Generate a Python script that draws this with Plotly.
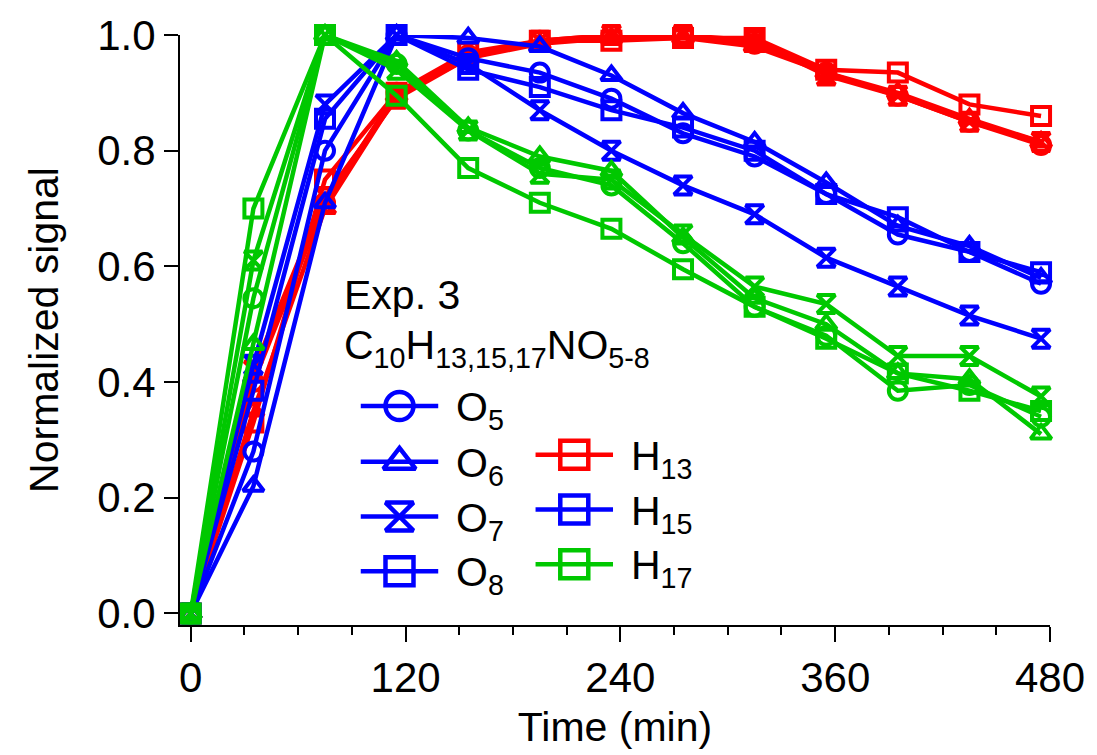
import plotly.graph_objects as go

# ---------------- data ----------------
time_min = [0, 35, 75, 115, 155, 195, 235, 275, 315, 355, 395, 435, 475]

# H13 (red)
h13_o5 = [0, 0.40, 0.71, 0.90, 0.965, 0.99, 1.00, 1.00, 0.985, 0.935, 0.895, 0.85, 0.81]
h13_o6 = [0, 0.35, 0.70, 0.895, 0.96, 0.985, 0.995, 0.995, 0.98, 0.935, 0.90, 0.855, 0.815]
h13_o7 = [0, 0.42, 0.72, 0.89, 0.96, 0.99, 1.00, 1.00, 0.99, 0.93, 0.895, 0.85, 0.815]
h13_o8 = [0, 0.33, 0.75, 0.90, 0.97, 0.99, 0.99, 0.995, 0.995, 0.94, 0.935, 0.88, 0.86]

# H15 (blue)
h15_o5 = [0, 0.28, 0.80, 1.00, 0.96, 0.935, 0.89, 0.83, 0.79, 0.725, 0.655, 0.625, 0.57]
h15_o6 = [0, 0.22, 0.71, 1.00, 0.995, 0.98, 0.93, 0.865, 0.815, 0.745, 0.67, 0.635, 0.58]
h15_o7 = [0, 0.43, 0.88, 1.00, 0.95, 0.87, 0.80, 0.74, 0.69, 0.615, 0.565, 0.515, 0.475]
h15_o8 = [0, 0.385, 0.855, 1.00, 0.94, 0.91, 0.87, 0.84, 0.80, 0.725, 0.685, 0.625, 0.59]

# H17 (green)
h17_o5 = [0, 0.545, 1.00, 0.95, 0.835, 0.77, 0.74, 0.64, 0.53, 0.48, 0.385, 0.395, 0.34]
h17_o6 = [0, 0.465, 1.00, 0.955, 0.84, 0.79, 0.765, 0.65, 0.545, 0.50, 0.415, 0.405, 0.31]
h17_o7 = [0, 0.61, 1.00, 0.94, 0.835, 0.76, 0.75, 0.655, 0.565, 0.535, 0.445, 0.445, 0.375]
h17_o8 = [0, 0.70, 1.00, 0.895, 0.77, 0.71, 0.665, 0.595, 0.53, 0.475, 0.415, 0.385, 0.35]

x_ticks = [0, 120, 240, 360, 480]
y_ticks = [0.0, 0.2, 0.4, 0.6, 0.8, 1.0]
y_tick_labels = ["0.0", "0.2", "0.4", "0.6", "0.8", "1.0"]

o_labels = ["O<sub>5</sub>", "O<sub>6</sub>", "O<sub>7</sub>", "O<sub>8</sub>"]
h_labels = ["H<sub>13</sub>", "H<sub>15</sub>", "H<sub>17</sub>"]

# ---------------- style ----------------
RED, BLUE, GREEN = "#ff0000", "#0000ff", "#00c800"
SYMBOLS = ["circle-open", "triangle-up-open", "hourglass-open", "square-open"]
FONT = "Liberation Sans, Arial, sans-serif"
FS_TICK = 42
FS_TEXT = 41

W, H = 1097, 755
ML, MR, MT, MB = 180, 41, 32, 130

fig = go.Figure()

groups = [
    (RED, [h13_o5, h13_o6, h13_o7, h13_o8]),
    (BLUE, [h15_o5, h15_o6, h15_o7, h15_o8]),
    (GREEN, [h17_o5, h17_o6, h17_o7, h17_o8]),
]
for color, series in groups:
    for sym, ys in zip(SYMBOLS, series):
        fig.add_trace(go.Scatter(
            x=time_min, y=ys, mode="lines+markers",
            line=dict(color=color, width=4.5),
            marker=dict(symbol=sym, size=18, color=color, opacity=1,
                        line=dict(color=color, width=4)),
            cliponaxis=False, showlegend=False, hoverinfo="skip",
        ))

# ---------------- manual legend (pixel-coordinate overlay axes) ----------------
o_rows_y = [405, 461, 516, 571]
h_rows_y = [454, 509, 564]
o_line_x = (362, 440)
h_line_x = (538, 616)


def legend_sample(x0, x1, yy, color, sym):
    fig.add_trace(go.Scatter(
        x=[x0, x1], y=[yy, yy], mode="lines", xaxis="x2", yaxis="y2",
        line=dict(color=color, width=4.5),
        cliponaxis=False, showlegend=False, hoverinfo="skip"))
    fig.add_trace(go.Scatter(
        x=[(x0 + x1) / 2], y=[yy], mode="markers", xaxis="x2", yaxis="y2",
        marker=dict(symbol=sym, size=28, color=color, opacity=1,
                    line=dict(color=color, width=4.5)),
        cliponaxis=False, showlegend=False, hoverinfo="skip"))


for lbl, sym, yy in zip(o_labels, SYMBOLS, o_rows_y):
    legend_sample(o_line_x[0], o_line_x[1], yy, BLUE, sym)
    fig.add_annotation(x=o_line_x[1] + 16, y=yy + 4, xref="x2", yref="y2", text=lbl,
                       showarrow=False, xanchor="left", yanchor="middle",
                       font=dict(family=FONT, size=FS_TEXT, color="black"))

for lbl, color, yy in zip(h_labels, [RED, BLUE, GREEN], h_rows_y):
    legend_sample(h_line_x[0], h_line_x[1], yy, color, "square-open")
    fig.add_annotation(x=h_line_x[1] + 16, y=yy + 4, xref="x2", yref="y2", text=lbl,
                       showarrow=False, xanchor="left", yanchor="middle",
                       font=dict(family=FONT, size=FS_TEXT, color="black"))

fig.add_annotation(x=343, y=293, xref="x2", yref="y2", text="Exp. 3",
                   showarrow=False, xanchor="left", yanchor="middle",
                   font=dict(family=FONT, size=FS_TEXT, color="black"))
fig.add_annotation(x=343, y=347, xref="x2", yref="y2",
                   text="C<sub>10</sub>H<sub>13,15,17</sub>NO<sub>5-8</sub>",
                   showarrow=False, xanchor="left", yanchor="middle",
                   font=dict(family=FONT, size=FS_TEXT, color="black"))

fig.update_layout(
    width=W, height=H,
    margin=dict(l=ML, r=MR, t=MT, b=MB),
    paper_bgcolor="white", plot_bgcolor="rgba(0,0,0,0)",
    font=dict(family=FONT, size=FS_TICK, color="black"),
    xaxis=dict(
        range=[-6, 480], tickmode="array", tickvals=x_ticks,
        ticks="outside", ticklen=15, tickwidth=2, tickcolor="black",
        minor=dict(dtick=30, tick0=0, ticks="outside", ticklen=8, tickwidth=2, tickcolor="black"),
        showline=True, linecolor="black", linewidth=2, showgrid=False, zeroline=False,
        title=dict(text="Time (min)", font=dict(family=FONT, size=FS_TEXT), standoff=12),
        tickfont=dict(family=FONT, size=FS_TICK),
    ),
    yaxis=dict(
        range=[-0.02, 1.0], tickmode="array", tickvals=y_ticks, ticktext=y_tick_labels,
        ticks="outside", ticklen=14, tickwidth=2, tickcolor="black",
        showline=True, linecolor="black", linewidth=2, showgrid=False, zeroline=False,
        title=dict(text="Normalized signal", font=dict(family=FONT, size=FS_TEXT), standoff=26),
        tickfont=dict(family=FONT, size=FS_TICK),
    ),
    xaxis2=dict(range=[ML, W - MR], domain=[0, 1], anchor="y2", visible=False,
                showgrid=False, zeroline=False, fixedrange=True),
    yaxis2=dict(range=[H - MB, MT], domain=[0, 1], anchor="x2", visible=False,
                showgrid=False, zeroline=False, fixedrange=True),
)

fig.write_html("out.html")
